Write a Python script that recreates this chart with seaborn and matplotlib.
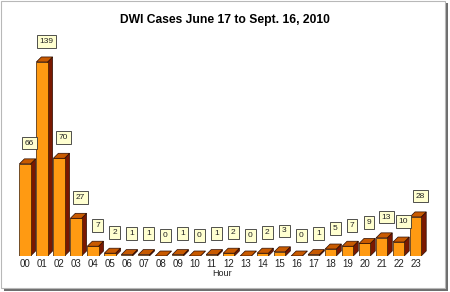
import matplotlib
matplotlib.use("Agg")
import matplotlib.pyplot as plt
import seaborn as sns
import pandas as pd
from matplotlib.patches import Polygon, Rectangle

hours = ["00", "01", "02", "03", "04", "05", "06", "07", "08", "09", "10", "11",
         "12", "13", "14", "15", "16", "17", "18", "19", "20", "21", "22", "23"]
cases = [66, 139, 70, 27, 7, 2, 1, 1, 0, 1, 0, 1,
         2, 0, 2, 3, 0, 1, 5, 7, 9, 13, 10, 28]
title = "DWI Cases June 17 to Sept. 16, 2010"
xlabel = "Hour"

df = pd.DataFrame({"hour": hours, "cases": cases})

sns.set_style("white")
plt.rcParams["font.family"] = ["Liberation Sans", "DejaVu Sans"]

W, H = 450, 292
fig = plt.figure(figsize=(W / 100, H / 100), dpi=100)
fig.patch.set_facecolor("white")

# frame with shadow
fig.patches.append(Rectangle((4 / W, 1 - 291 / H), 444 / W, 288 / H, transform=fig.transFigure,
                             facecolor="#6e6e6e", edgecolor="none", zorder=-2))
fig.patches.append(Rectangle((1 / W, 1 - 288 / H), 444 / W, 287 / H, transform=fig.transFigure,
                             facecolor="white", edgecolor="#b8b8b8", linewidth=0.8, zorder=-1))

ax_left_px, ax_right_px = 16.5, 427.5
base_px, top_px = 256, 35
ax = fig.add_axes([ax_left_px / W, 1 - base_px / H, (ax_right_px - ax_left_px) / W,
                   (base_px - top_px) / H])
ax.set_facecolor("none")
ax.set_zorder(1)

sns.barplot(data=df, x="hour", y="cases", color="#FF9A12", width=0.66, saturation=1,
            edgecolor="#3a1a00", linewidth=0.5, ax=ax, zorder=3)

xmin, xmax = -0.5, 23.7
ymax = (base_px - top_px) / 1.396
ax.set_xlim(xmin, xmax)
ax.set_ylim(0, ymax)

# depth in data units (5 px right, 5 px up)
px_x = (xmax - xmin) / (ax_right_px - ax_left_px)
px_y = ymax / (base_px - top_px)
dx, dy = 5 * px_x, 5 * px_y

for p in list(ax.patches):
    x0 = p.get_x()
    w = p.get_width()
    h = p.get_height()
    x1 = x0 + w
    side = Polygon([(x1, 0), (x1 + dx, dy), (x1 + dx, h + dy), (x1, h)], closed=True,
                   facecolor="#7a1800", edgecolor="#2a0a00", linewidth=0.5, zorder=2)
    top = Polygon([(x0, h), (x1, h), (x1 + dx, h + dy), (x0 + dx, h + dy)], closed=True,
                  facecolor="#c85a00", edgecolor="#2a0a00", linewidth=0.5, zorder=4)
    ax.add_patch(side)
    ax.add_patch(top)
    ax.annotate(f"{int(h)}", xy=(x0 + w / 2 + dx / 2, h), xytext=(1.5, 15),
                textcoords="offset points", ha="center", va="center", fontsize=6,
                color="#222222", zorder=6, annotation_clip=False,
                bbox=dict(boxstyle="square,pad=0.35", facecolor="#ffffd0",
                          edgecolor="#333333", linewidth=0.6))

ax.set_yticks([])
ax.tick_params(axis="x", length=0, pad=2, labelsize=7, colors="#222222")
ax.set_xlabel(xlabel, fontsize=6.5, color="#222222", labelpad=0)
ax.set_ylabel("")
for s in ax.spines.values():
    s.set_visible(False)

fig.text(0.5, 1 - 20 / H, title, ha="center", va="center", fontsize=8.7, fontweight="bold",
         color="black")

fig.savefig("out.png", dpi=100)
